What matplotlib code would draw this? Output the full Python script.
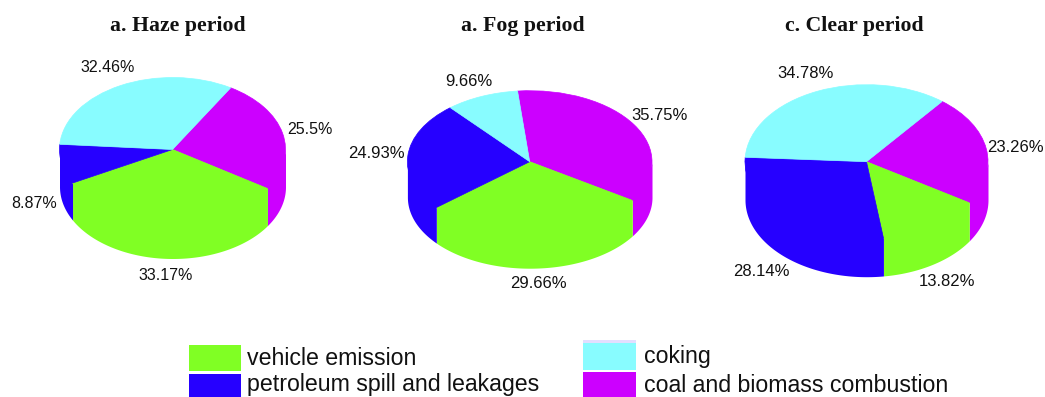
# -*- coding: utf-8 -*-
"""
Source apportionment pies for the haze, fog and clear periods
"""

import numpy as np
from matplotlib import pyplot as plt
from matplotlib.patches import Rectangle

W, H = 1045, 397

#definitions
titles = ["a. Haze period", "a. Fog period", "c. Clear period"]
sources = ["coal and biomass combustion", "vehicle emission",
           "petroleum spill and leakages", "coking"]
colors = ['#cc00ff', '#80ff24', '#2600ff', '#88fcff']

haze = [25.5, 33.17, 8.87, 32.46]
fog = [35.75, 29.66, 24.93, 9.66]
clear = [23.26, 13.82, 28.14, 34.78]
series = [haze, fog, clear]

# pixel layout of each pie: centre x, centre y, x radius, y radius, depth, start angle
layout = [(172.5, 149.5, 113, 72, 37, 59),
          (529.7, 161.7, 122.3, 71, 35.5, 95.7),
          (866.5, 161.7, 121.5, 77, 38, 51.5)]
title_x = [177.5, 522.5, 854.5]
title_y = 26
# label anchor centres in pixels, same order as the values
label_pos = [[(309.5, 129), (165.5, 276), (34, 204), (107.5, 68)],
             [(659.5, 115.5), (538.5, 284), (376, 154), (469, 81)],
             [(1015, 148), (946.5, 282), (761.5, 271), (805.5, 74)]]
label_size = [11.5, 12, 12]


def add_axes_px(left, top, width, height):
    return fig.add_axes([left / W, 1 - (top + height) / H, width / W, height / H])


def pie3d(vals, geom):
    """
    Flat pie squashed into an ellipse, with a side wall below the front half
    """
    cx, cy, rx, ry, depth, start = geom
    d = depth / ry
    ax = add_axes_px(cx - rx, cy - ry, 2 * rx, 2 * ry + depth)
    ax.pie(vals, colors=colors, startangle=start, counterclock=False, radius=1)
    ax.set_aspect('auto')
    ax.set_xlim(-1, 1)
    ax.set_ylim(-1 - d, 1)
    ax.axis('off')
    for a, c in zip(ax.patches, colors):
        a.set_clip_on(False)
        a.set_zorder(2)
        # same colour outline hides the rim where top and wall meet
        a.set_edgecolor(c)
        a.set_linewidth(0.5)
    # side wall, clockwise from the start angle like the wedges
    a0 = start
    for v, c in zip(vals, colors):
        a1 = a0 - v * 3.6
        t = np.radians(np.linspace(a0, a1, 200))
        t = t[np.sin(t) <= 0]
        if len(t) > 1:
            ax.fill_between(np.cos(t), np.sin(t) - d, np.sin(t) * 0.5, color=c, lw=0,
                            clip_on=False, zorder=1)
        a0 = a1
    return ax


def legend_item(x, y, w, h, c, name, text_x, text_y):
    fig.add_artist(Rectangle((x / W, 1 - (y + h) / H), w / W, h / H, color=c, lw=0,
                             transform=fig.transFigure))
    fig.text(text_x / W, 1 - text_y / H, name, fontsize=16.7, va='center',
             family='Liberation Sans', color='#111111')


fig = plt.figure(figsize=(W / 100, H / 100), dpi=100)

for vals, geom, name, tx, pos, size in zip(series, layout, titles, title_x, label_pos, label_size):
    pie3d(vals, geom)
    fig.text(tx / W, 1 - title_y / H, name, ha='center', va='center', fontsize=15.7,
             fontweight='bold', family='Liberation Serif', color='#111111')
    for v, (x, y) in zip(vals, pos):
        fig.text(x / W, 1 - y / H, "%g%%" % v, ha='center', va='center', fontsize=size,
                 family='Liberation Sans', color='#111111')

legend_item(189, 345, 52, 26, colors[1], sources[1], 247, 358.5)
legend_item(189, 374, 52, 26, colors[2], sources[2], 247, 385)
# thin pale line sitting on top of the coking swatch
fig.add_artist(Rectangle((583 / W, 1 - 343 / H), 53 / W, 3 / H, color='#e2deff', lw=0,
                         transform=fig.transFigure))
legend_item(583, 343, 53, 27, colors[3], sources[3], 644, 357)
legend_item(583, 372, 53, 27, colors[0], sources[0], 644, 385)

fig.savefig('out.png', dpi=100)
